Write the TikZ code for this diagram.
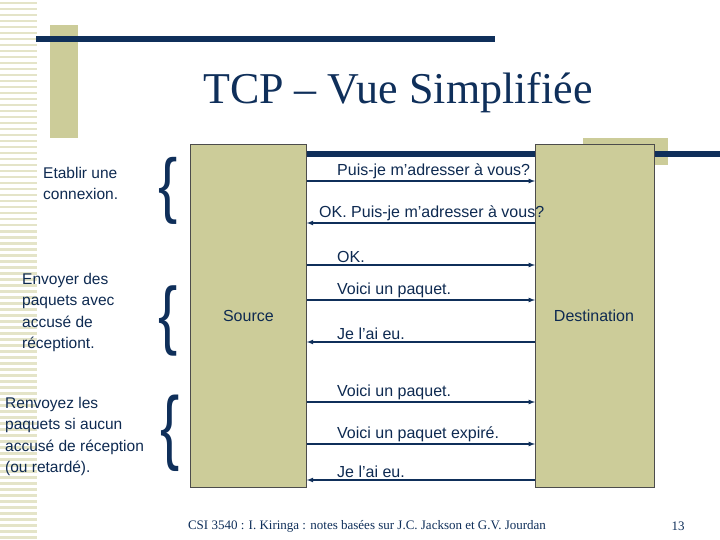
\documentclass[tikz,border=0pt]{standalone}
\usepackage{fontspec}
\setmainfont{Liberation Serif}
\setsansfont{Liberation Sans}[Ligatures=ResetAll]
\definecolor{khaki}{HTML}{CCCC99}
\definecolor{navy}{HTML}{0F2F5A}
\definecolor{stripe}{HTML}{E4E4C8}
\begin{document}
\begin{tikzpicture}[x=1pt,y=-1pt,
  box/.style={draw=black!70,fill=khaki,line width=0.8pt},
  msg/.style={navy,line width=1.2pt,-latex},
  lab/.style={anchor=south west,inner sep=1pt,font=\sffamily\fontsize{16}{18}\selectfont,text=navy!90!black},
  side/.style={anchor=north west,align=left,inner sep=0pt,font=\sffamily\fontsize{15.5}{21.5}\selectfont,text=navy!90!black},
  brace/.style={inner sep=0pt,text=navy,font=\sffamily\fontsize{72}{72}\selectfont}]
\useasboundingbox (0,0) rectangle (720,540);
\fill[white] (0,0) rectangle (720,540);
\foreach \i in {0,...,89} \fill[stripe] (0,{\i*6+2}) rectangle (37,{\i*6+4.5});
\fill[khaki] (50,25) rectangle (78,138);
\fill[navy] (36,36) rectangle (495,42);
\fill[khaki] (583,138) rectangle (668,165);
\fill[navy] (222,151) rectangle (720,157);
\node[text=navy,font=\fontsize{44}{44}\selectfont] (title) at (398,93) {TCP – Vue Simplifiée};
\node[box,minimum width=116pt,minimum height=343pt,anchor=north west] (src) at (190,144) {};
\node[box,minimum width=119pt,minimum height=343pt,anchor=north west] (dst) at (535,144) {};
\node[font=\sffamily\fontsize{16}{18}\selectfont,text=navy!90!black] at (src.center) {Source};
\node[font=\sffamily\fontsize{16}{18}\selectfont,text=navy!90!black] at (594,316) {Destination};
\foreach \y in {181,265,300,402,444}
  \draw[msg] (src.east |- 0,\y) -- (dst.west |- 0,\y);
\foreach \y in {223,342,480}
  \draw[msg] (dst.west |- 0,\y) -- (src.east |- 0,\y);
\node[lab] (l1) at (336,180) {Puis-je m'adresser à vous?};
\node[lab] (l2) at (318,222) {OK. Puis-je m'adresser à vous?};
\node[lab] (l3) at (336,264) {OK.};
\node[lab] (l4) at (336,299) {Voici un paquet.};
\node[lab] (l5) at (336,341) {Je l’ai eu.};
\node[lab] (l6) at (336,401) {Voici un paquet.};
\node[lab] (l7) at (336,443) {Voici un paquet expiré.};
\node[lab] (l8) at (336,479) {Je l’ai eu.};
\node[side] (t1) at (43,167) {Etablir une\\connexion.};
\node[side] (t2) at (22,273) {Envoyer des\\paquets avec\\accusé de\\réceptiont.};
\node[side] (t3) at (5,397) {Renvoyez les\\paquets si aucun\\accusé de réception\\(ou retardé).};
\node[brace,xscale=0.8] (b1) at (168,191) {\{};
\node[brace,xscale=0.8,yscale=1.05] (b2) at (168,321) {\{};
\node[brace,xscale=0.8,yscale=1.14] (b3) at (170,433) {\{};
\node[font=\fontsize{13}{13}\selectfont,text=navy] (foot) at (367,526) {CSI 3540 : I. Kiringa : notes basées sur J.C. Jackson et G.V. Jourdan};
\node[font=\fontsize{13}{13}\selectfont,text=navy] (pg) at (678,526) {13};
\end{tikzpicture}
\end{document}
